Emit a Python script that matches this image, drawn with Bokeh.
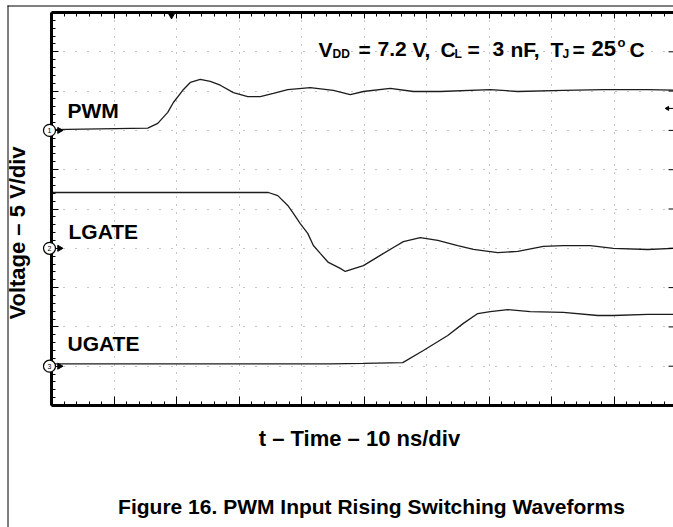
import numpy as np
from bokeh.plotting import figure
from bokeh.models import (Range1d, LinearAxis, SingleIntervalTicker, Label,
                          ColumnDataSource, CustomJSTickFormatter)
from bokeh.core.properties import value
from bokeh.embed import file_html
from bokeh.resources import INLINE

# ---------------- data ----------------
ns_per_div = 10
volts_per_div = 5
n_div = 10

channel_names = ["PWM", "LGATE", "UGATE"]
channel_numbers = ["1", "2", "3"]
channel_ground_div = [7, 4, 1]

pwm_t = [0, 15.4, 17.0, 18.6, 19.5, 21.0, 22.2, 23.8, 25.4, 27.0, 29.1, 31.4, 33.4, 35.5,
         37.8, 41.4, 45.1, 47.8, 49.9, 54.2, 57.9, 62.2, 70.2, 74.6, 81.9, 88.3, 95.4, 100]
pwm_v = [0.1, 0.3, 0.9, 2.3, 3.55, 5.1, 6.1, 6.5, 6.25, 5.75, 4.8, 4.3, 4.3, 4.7,
         5.2, 5.45, 5.1, 4.55, 4.95, 5.35, 4.95, 4.95, 5.2, 4.95, 5.1, 5.2, 5.2, 5.1]

lgate_t = [0, 34.7, 36.2, 37.8, 38.7, 39.8, 41.0, 41.9, 43.0, 44.3, 46.2, 47.0, 49.9, 52.6,
           54.7, 56.3, 59.0, 61.8, 65.0, 67.5, 71.4, 74.6, 78.7, 81.9, 86.2, 89.9, 95.4, 100]
lgate_v = [7.1, 7.1, 6.7, 5.45, 4.45, 3.15, 1.9, 0.35, -0.65, -1.8, -2.55, -2.95, -2.2, -0.9,
           0.1, 0.85, 1.35, 1.0, 0.35, -0.15, -0.55, -0.4, 0.25, 0.35, 0.35, 0.0, -0.15, 0.0]

ugate_t = [0, 44.6, 49.9, 56.2, 59.5, 63.4, 65.9, 68.2, 70.2, 73.0, 76.6, 81.9, 87.4, 89.9, 95.4, 100]
ugate_v = [0.3, 0.3, 0.35, 0.45, 2.0, 3.9, 5.45, 6.7, 6.95, 7.2, 6.95, 6.85, 6.45, 6.45, 6.6, 6.6]

trigger_time_ns = 19.2
trigger_level = 37.8

# ---------------- layout (page pixels) ----------------
W, H = 673, 527
FL, FT, FB = 51, 12, 122
FW = W - FL
FH = H - FT - FB
px_x = 62.5                      # pixels per horizontal division
ns_per_px = ns_per_div / px_x
x_end = FW * ns_per_px
y_top = n_div * volts_per_div
px_per_v = FH / y_top
F_BOTTOM = FT + FH


def dx(px):
    return (px - FL) * ns_per_px


def dy(py):
    return (F_BOTTOM - py) / px_per_v


def lift(fs):
    # distance between the text anchor and the drawn baseline (pixels)
    return 0.39 * fs


FONT = "Liberation Sans"
TRACE = "#1c1c1c"

p = figure(width=W, height=H, x_range=Range1d(0, x_end), y_range=Range1d(0, y_top),
           output_backend="svg", toolbar_location=None, tools="",
           x_axis_location=None, y_axis_location=None,
           min_border_left=FL, min_border_right=0, min_border_top=FT, min_border_bottom=FB,
           background_fill_color="white", border_fill_color="white")
p.outline_line_color = None

xt = SingleIntervalTicker(interval=ns_per_div, num_minor_ticks=5)
yt = SingleIntervalTicker(interval=volts_per_div, num_minor_ticks=5)

p.xgrid.ticker = xt
p.ygrid.ticker = yt
p.xgrid.grid_line_color = "#8a8a8a"
p.ygrid.grid_line_color = "#8a8a8a"
p.xgrid.grid_line_dash = "1 7"
p.ygrid.grid_line_dash = "1 11"
p.xgrid.grid_line_width = 1
p.ygrid.grid_line_width = 1


def scope_axis(ticker, maj_in, min_in):
    return LinearAxis(ticker=ticker, axis_line_width=3, axis_line_color="black",
                      major_tick_in=maj_in, major_tick_out=0, minor_tick_in=min_in, minor_tick_out=0,
                      major_tick_line_color="black", minor_tick_line_color="black",
                      major_tick_line_width=1, minor_tick_line_width=1,
                      formatter=CustomJSTickFormatter(code="return ''"),
                      major_label_text_font_size="0px", major_label_standoff=0)


p.add_layout(scope_axis(yt, 7, 4), "left")
p.add_layout(scope_axis(xt, 6, 4), "above")
p.add_layout(scope_axis(xt, 9, 4), "below")

# traces
grounds = [g * volts_per_div for g in channel_ground_div]
for t, v, g in [(pwm_t, pwm_v, grounds[0]), (lgate_t, lgate_v, grounds[1]), (ugate_t, ugate_v, grounds[2])]:
    p.line(t, np.array(v) + g, line_color=TRACE, line_width=1.3)

# right-edge division ticks of the screen (half of each dash lies past the page edge)
div_levels = np.arange(1, n_div) * volts_per_div
p.scatter(x=[x_end] * len(div_levels), y=div_levels, marker="dash", size=10,
          line_color="black", line_width=1)

# trigger position / level markers
p.scatter([trigger_time_ns], [y_top - 0.3], marker="inverted_triangle", size=7,
          fill_color="black", line_color="black")
p.line(x=[x_end - 7 * ns_per_px, x_end], y=[trigger_level, trigger_level],
       line_color="black", line_width=1)
p.scatter([x_end - 6 * ns_per_px], [trigger_level], marker="triangle", angle=np.pi / 2, size=4,
          fill_color="black", line_color="black")

# channel ground markers
src = ColumnDataSource(dict(x=[dx(49)] * 3, xa=[dx(59)] * 3, y=grounds, num=channel_numbers))
p.scatter("xa", "y", source=src, marker="triangle", angle=-np.pi / 2, size=6,
          fill_color="black", line_color="black", level="overlay")
p.scatter("x", "y", source=src, marker="circle", size=12, fill_color="white",
          line_color="black", line_width=1.2, level="overlay")
p.text("x", "y", text="num", source=src, text_font=value(FONT), text_font_size="7px",
       text_align="center", text_baseline="middle", text_color="black", level="overlay")


def put(txt, px, base_py, fs):
    p.add_layout(Label(x=dx(px), y=dy(base_py - lift(fs)), text=txt, text_font=FONT,
                       text_font_style="bold", text_font_size=f"{fs}px",
                       text_baseline="alphabetic", text_color="black"))


# channel names (left x, baseline y in pixels)
label_px = [(67, 117.7), (68, 239.3), (67, 351)]
for name, (lx, ly) in zip(channel_names, label_px):
    put(name, lx, ly, 21)

# conditions annotation with sub/superscripts
BASE = 56.7
anno = [("V", 318, BASE, 21), ("DD", 332, BASE + 1.6, 12), ("=", 358, BASE, 21),
        ("7.2", 377, BASE, 21), ("V,", 412, BASE, 21), ("C", 440, BASE, 21),
        ("L", 454, BASE + 1.6, 12), ("=", 467, BASE, 21), ("3", 492, BASE, 21),
        ("nF,", 510, BASE, 21), ("T", 550, BASE, 21), ("J", 562, BASE + 1.6, 12),
        ("=", 572, BASE, 21), ("25", 591, BASE, 22), ("o", 617, 47, 13), ("C", 629, BASE, 21)]
for txt, px, by, fs in anno:
    put(txt, px, by, fs)

# axis titles and caption, drawn outside the screen area
p.text(x=[dx(26 - lift(22))], y=[dy(232.5)], text=["Voltage – 5 V/div"], angle=np.pi / 2,
       text_font=value(FONT), text_font_style="bold", text_font_size="22px",
       text_align="center", text_baseline="alphabetic", text_color="black", level="overlay")
p.text(x=[dx(362)], y=[dy(447 - lift(22))], text=["t –  Time – 10 ns/div"],
       text_font=value(FONT), text_font_style="bold", text_font_size="22px",
       text_align="center", text_baseline="alphabetic", text_color="black", level="overlay")
p.text(x=[dx(371)], y=[dy(514 - lift(21))], text=["Figure 16. PWM Input Rising Switching Waveforms"],
       text_font=value(FONT), text_font_style="bold", text_font_size="21px",
       text_align="center", text_baseline="alphabetic", text_color="black", level="overlay")

# page frame lines
p.line(x=[dx(7.5), dx(7.5)], y=[dy(5), dy(H)], line_color="black", line_width=1, level="overlay")
p.line(x=[dx(7), dx(W)], y=[dy(5.5), dy(5.5)], line_color="black", line_width=1, level="overlay")

open("out.html", "w").write(file_html(p, INLINE))
